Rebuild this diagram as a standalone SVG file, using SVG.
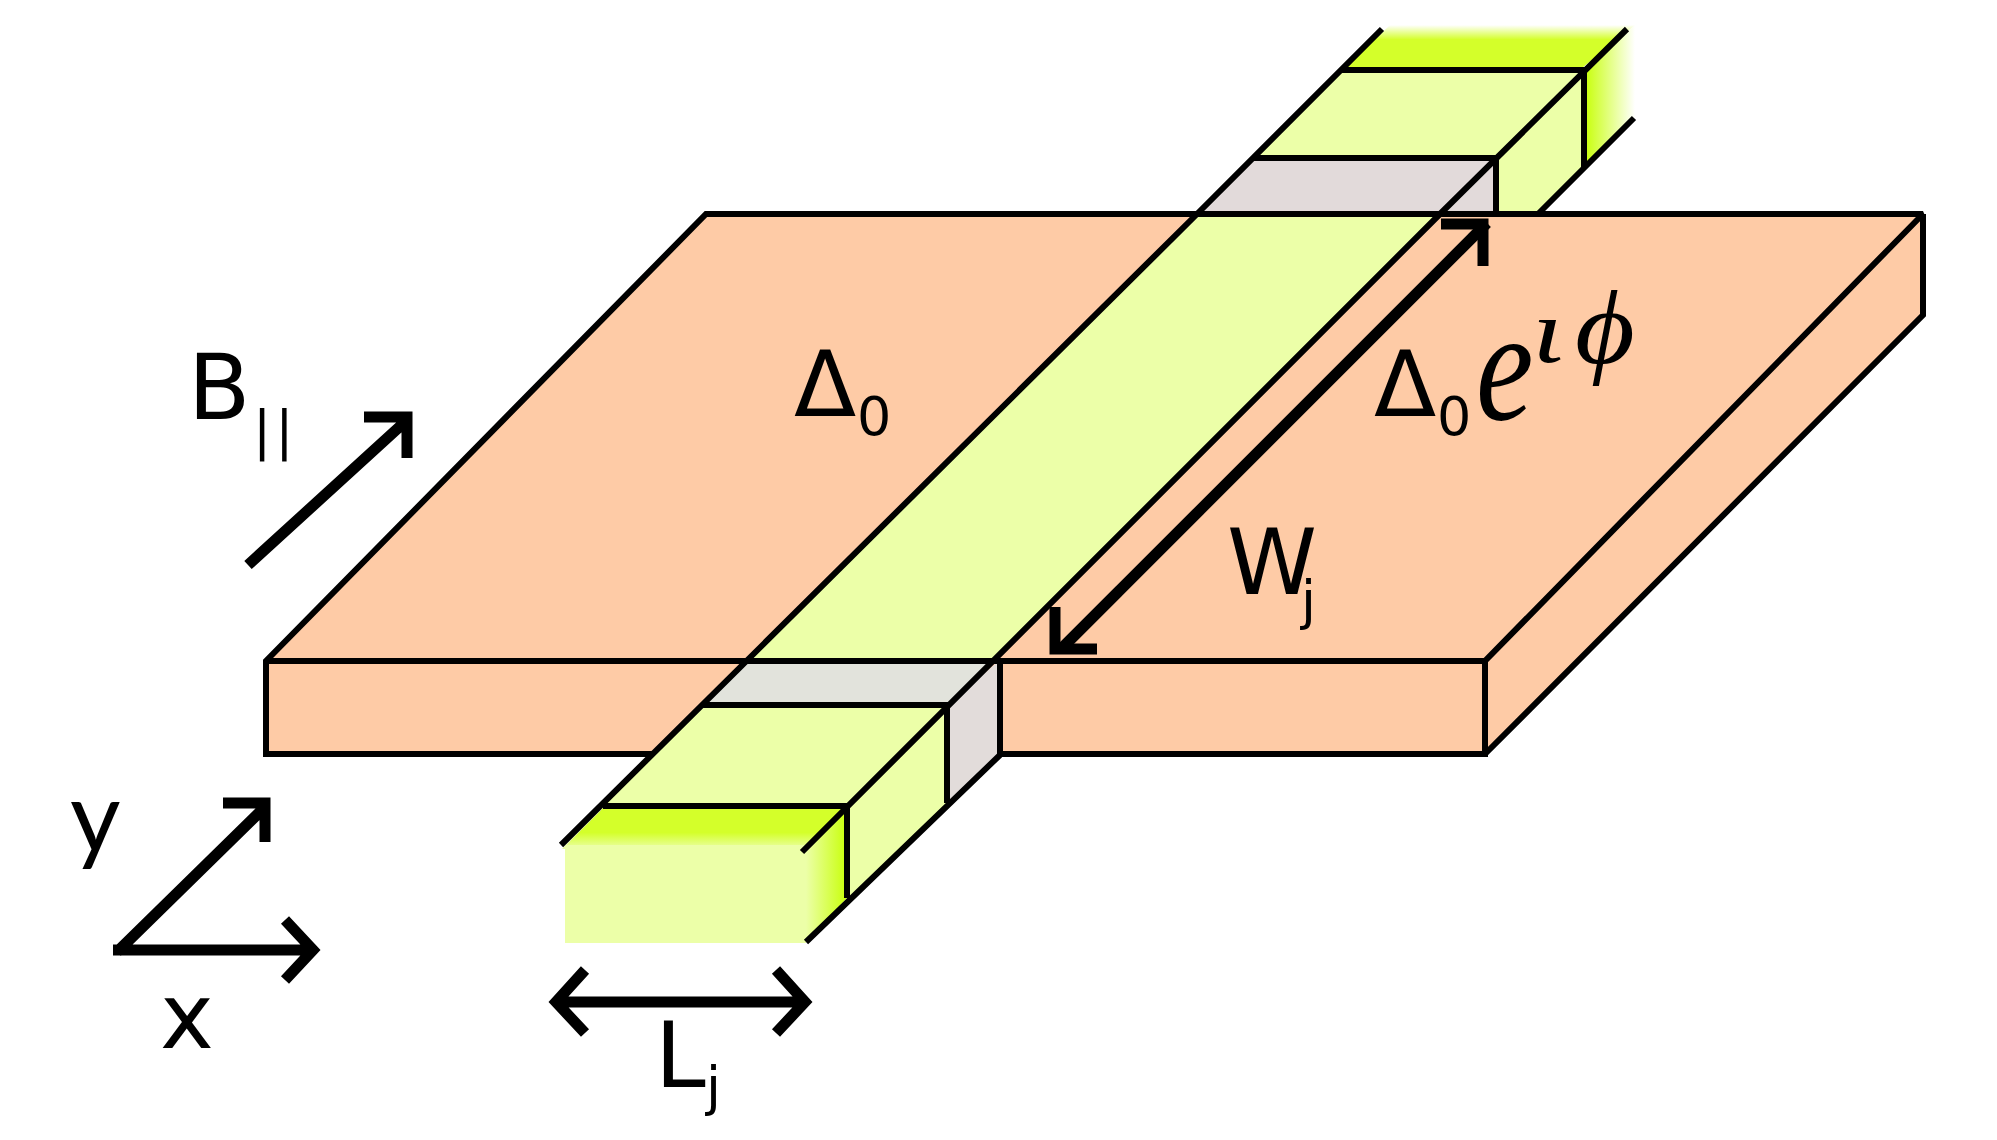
<svg xmlns="http://www.w3.org/2000/svg" width="1997" height="1140" viewBox="0 0 1997 1140">
<style>
.l{fill:none;stroke:#000;stroke-width:6;stroke-linecap:butt;stroke-linejoin:miter;stroke-miterlimit:2}
.a{fill:none;stroke:#000;stroke-width:11;stroke-linecap:butt;stroke-linejoin:miter}
.t{font-family:"DejaVu Sans",sans-serif;font-size:91px;fill:#000}
.s{font-family:"DejaVu Sans",sans-serif;font-size:54px;fill:#000}
.m{font-family:"Liberation Serif",serif;font-style:italic;fill:#000}
.o{fill:#fecba6}.g{fill:#ecffa8}
</style>
<defs>
<linearGradient id="gt1" x1="0" y1="0" x2="0" y2="1"><stop offset="0" stop-color="#d4ff2a"/><stop offset="0.6" stop-color="#d4ff2a"/><stop offset="1" stop-color="#ecffa8"/></linearGradient>
<linearGradient id="gs1" x1="0" y1="0" x2="1" y2="0"><stop offset="0" stop-color="#ecffa8"/><stop offset="1" stop-color="#c8ff0a"/></linearGradient>
<linearGradient id="gt2" x1="0" y1="1" x2="0" y2="0"><stop offset="0" stop-color="#d4ff2a"/><stop offset="0.66" stop-color="#d4ff2a"/><stop offset="1" stop-color="#d4ff2a" stop-opacity="0"/></linearGradient>
<linearGradient id="gs2" x1="0" y1="0" x2="1" y2="0"><stop offset="0" stop-color="#c8ff0a"/><stop offset="1" stop-color="#c8ff0a" stop-opacity="0"/></linearGradient>
</defs>
<g id="slab">
<polygon class="o" points="265,660 706,214 1923,214 1485,660"/>
<rect class="o" x="265" y="660" width="1220" height="94"/>
<polygon class="o" points="1485,660 1923,214 1923,315 1485,754"/>
</g>
<g id="strip">
<polygon class="g" points="1195,213 1441,213 997,660 747,660"/>
<polygon class="g" points="703,705 947,705 849,806 603,806"/>
<polygon class="g" points="947,705 947,803 849,900 849,806"/>
<polygon class="g" points="1341,70 1584,70 1496,158 1253,158"/>
<polygon class="g" points="1584,70 1584,167 1539,213 1496,213 1496,158"/>
<polygon points="747,660 997,660 949,705 703,705" fill="#e2e3dc"/>
<polygon points="1000,660 1000,755 947,803 947,705" fill="#e2dcda"/>
<polygon points="1253,158 1496,158 1496,213 1195,213" fill="#e2dada"/>
</g>
<g id="lead-front">
<polygon points="603,808 847,808 806,849 562,849" fill="url(#gt1)"/>
<rect class="g" x="565" y="845" width="241" height="98"/>
<polygon points="806,850 847,810 847,898 806,941" fill="url(#gs1)"/>
</g>
<g id="lead-back">
<polygon points="1390,25 1635,25 1582,68 1345,68" fill="url(#gt2)"/>
<polygon points="1585,70 1635,25 1635,118 1585,165" fill="url(#gs2)"/>
</g>
<g id="connectors">
<path class="l" d="M652,754H266V661L706,214H1923L1485,661V754H1000M1923,214V315L1485,754"/>
<path class="l" d="M266,661H1488"/>
<path class="l" d="M1382,29L1195,216L561,845M1627,29L1441,213L802,852M1634,118L1539,213M1000,755L806,942"/>
<path class="l" d="M1341,70H1584V167M1253,158H1496V213M703,705H949M947,705V803M603,806H850M847,806V898M1000,660V755"/>
<path class="a" d="M1487,223L1062,648"/>
<path class="a" d="M1441,224H1483V266M1055,607V649H1097"/>
<path class="a" d="M248,565L407,420M364,417H407V458"/>
<path class="a" d="M113,950H310M117,952L266,806M223,803H265V842M285,920L313,950L285,980"/>
<path class="a" d="M558,1002H802M585,970L556,1002L585,1033M776,970L805,1002L776,1033"/>
</g>
<g id="labels">
<text class="t" x="188" y="419">B</text><text class="s" x="253" y="449" letter-spacing="4">||</text>
<text class="t" x="794" y="416">Δ</text><text class="s" x="857" y="435">0</text>
<text class="t" x="1374" y="416">Δ</text><text class="s" x="1437" y="435">0</text>
<text class="m" font-size="158" transform="translate(1476,419) scale(.82,1)">e</text>
<text class="m" font-size="92" transform="translate(1532,362) scale(1.25,1)">ι</text>
<text class="m" font-size="105" transform="translate(1575,363) scale(1.1,1)">ϕ</text>
<text class="t" x="1227" y="594">W</text><text class="s" x="1301" y="619">j</text>
<text x="70" y="852" font-family="Lato,sans-serif" font-size="98">y</text>
<text class="t" x="160" y="1048">x</text>
<text class="t" x="655" y="1087">L</text><text class="s" x="706" y="1105">j</text>
</g>
</svg>
